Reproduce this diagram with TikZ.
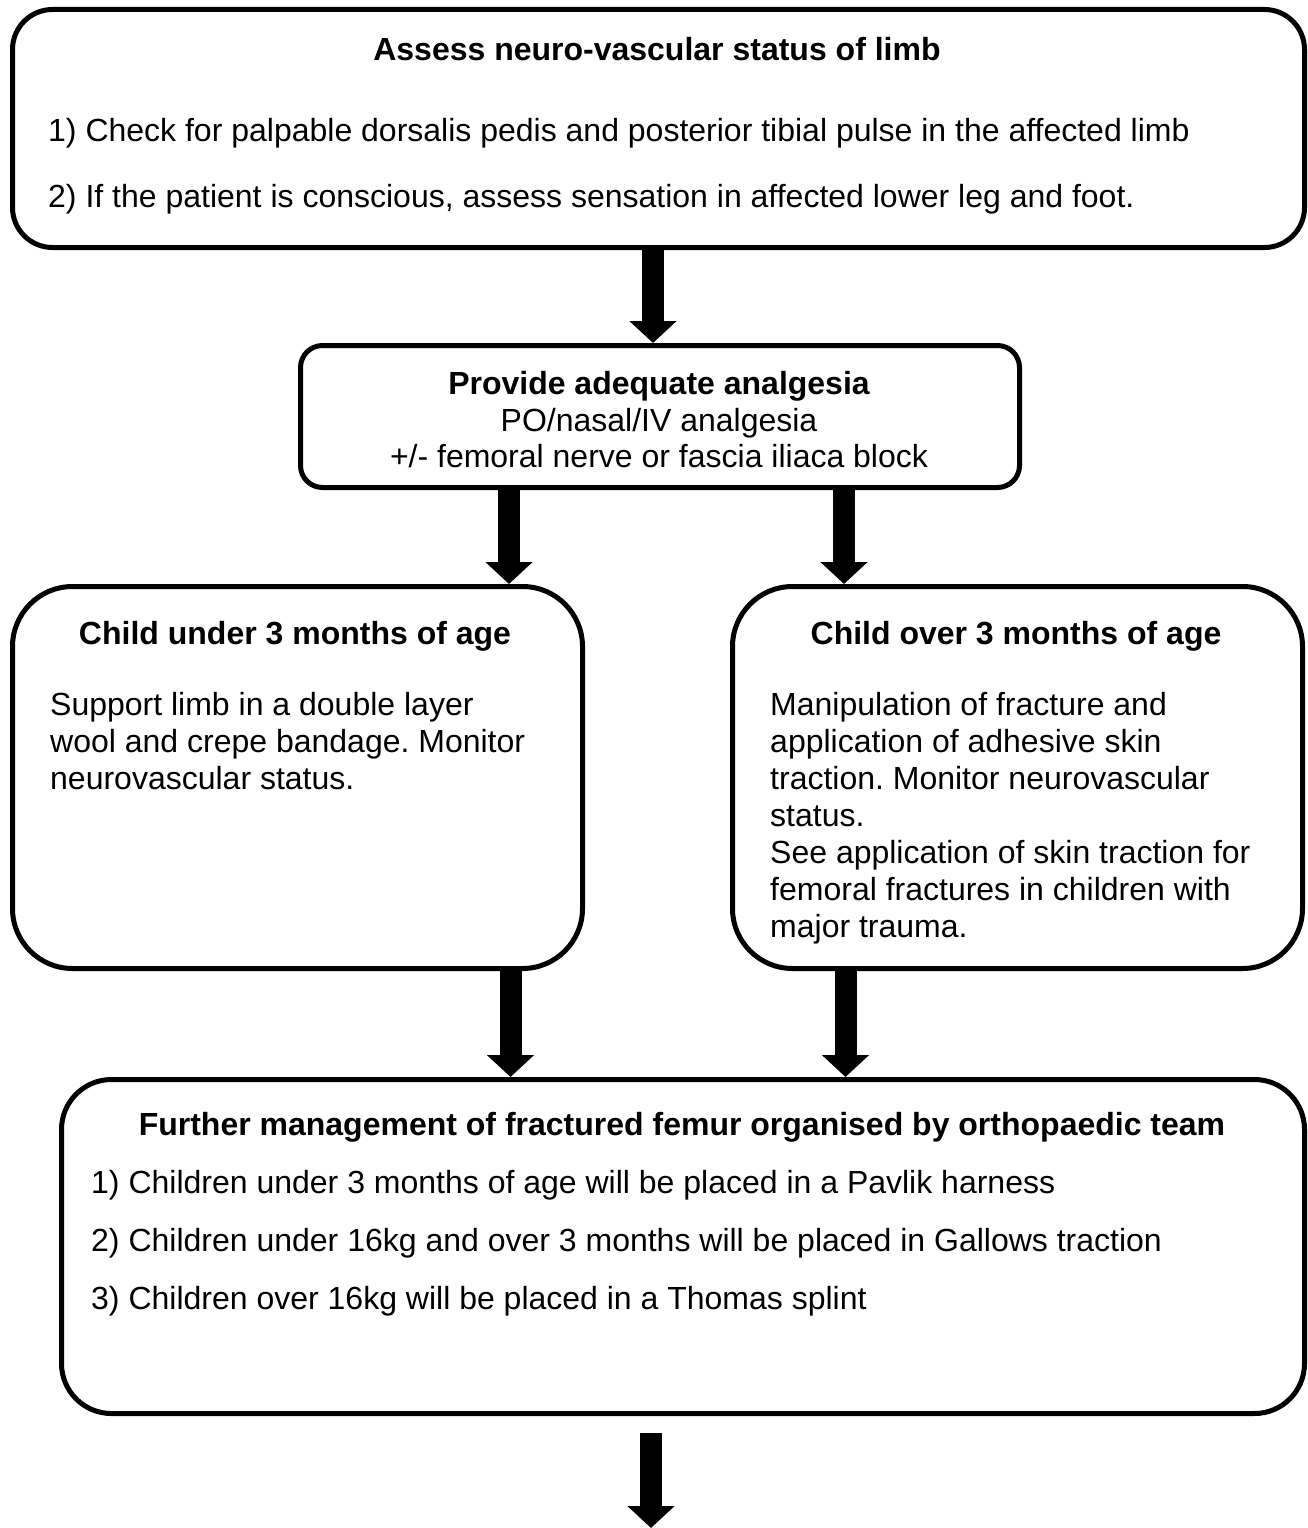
\documentclass[tikz,border=0pt]{standalone}
\usepackage{fontspec}
\setmainfont{Liberation Sans}
\usetikzlibrary{arrows.meta,calc}
\tikzset{
  box/.style={draw=black, line width=5pt, inner sep=0pt, anchor=north west, fill=white},
  fat/.style={line width=22pt, -{Triangle[width=46pt,length=22pt]}},
  txt/.style={inner sep=0pt, anchor=base west, font=\fontsize{32}{37}\selectfont},
  ttl/.style={inner sep=0pt, anchor=base, font=\fontsize{32}{37}\selectfont\bfseries},
}
\frenchspacing
\begin{document}
\begin{tikzpicture}[x=1pt,y=-1pt]
\useasboundingbox (0,0) rectangle (1308,1528);
% boxes
\node[box, rounded corners=40pt, minimum width=1292pt, minimum height=238pt] (b1) at (10,7) {};
\node[box, rounded corners=22pt, minimum width=719pt, minimum height=142pt] (b2) at (298,343) {};
\node[box, rounded corners=60pt, minimum width=570pt, minimum height=382pt] (b3) at (10,584) {};
\node[box, rounded corners=60pt, minimum width=570pt, minimum height=382pt] (b4) at (730,584) {};
\node[box, rounded corners=50pt, minimum width=1243pt, minimum height=334pt] (b5) at (59,1077) {};
% box 1
\node[ttl] (t1) at (657,61) {Assess neuro-vascular status of limb};
\node[txt] (t1a) at (48,141) {1) Check for palpable dorsalis pedis and posterior tibial pulse in the affected limb};
\node[txt] (t1b) at (48,207) {2) If the patient is conscious, assess sensation in affected lower leg and foot.};
% box 2
\node[ttl] (t2) at (659,394) {Provide adequate analgesia};
\node[txt, anchor=base] (t2a) at (659,431) {PO/nasal/IV analgesia};
\node[txt, anchor=base] (t2b) at (659,467) {+/- femoral nerve or fascia iliaca block};
% box 3
\node[ttl] (t3) at (295,644) {Child under 3 months of age};
\foreach \t [count=\i] in {Support limb in a double layer,wool and crepe bandage. Monitor,neurovascular status.}
  \node[txt] (t3-\i) at (50,{715+37*(\i-1)}) {\t};
% box 4
\node[ttl] (t4) at (1016,644) {Child over 3 months of age};
\foreach \t [count=\i] in {Manipulation of fracture and,application of adhesive skin,traction. Monitor neurovascular,status.,See application of skin traction for,femoral fractures in children with,major trauma.}
  \node[txt] (t4-\i) at (770,{715+37*(\i-1)}) {\t};
% box 5
\node[ttl] (t5) at (682,1135) {Further management of fractured femur organised by orthopaedic team};
\node[txt] (t5a) at (91,1193) {1) Children under 3 months of age will be placed in a Pavlik harness};
\node[txt] (t5b) at (91,1251) {2) Children under 16kg and over 3 months will be placed in Gallows traction};
\node[txt] (t5c) at (91,1309) {3) Children over 16kg will be placed in a Thomas splint};
% arrows
\draw[fat] ([xshift=-5.5pt]b1.south) -- ([xshift=-5.5pt]b1.south |- b2.north);
\draw[fat] ([xshift=-151pt]b2.south) -- ([xshift=-151pt]b2.south |- b3.north);
\draw[fat] ([xshift=184pt]b2.south) -- ([xshift=184pt]b2.south |- b4.north);
\draw[fat] ([xshift=213pt]b3.south) -- ([xshift=213pt]b3.south |- b5.north);
\draw[fat] ([xshift=-172pt]b4.south) -- ([xshift=-172pt]b4.south |- b5.north);
\coordinate (end) at (651,1528);
\draw[fat] ([yshift=-17pt]b5.south -| end) -- (end);
\end{tikzpicture}
\end{document}
